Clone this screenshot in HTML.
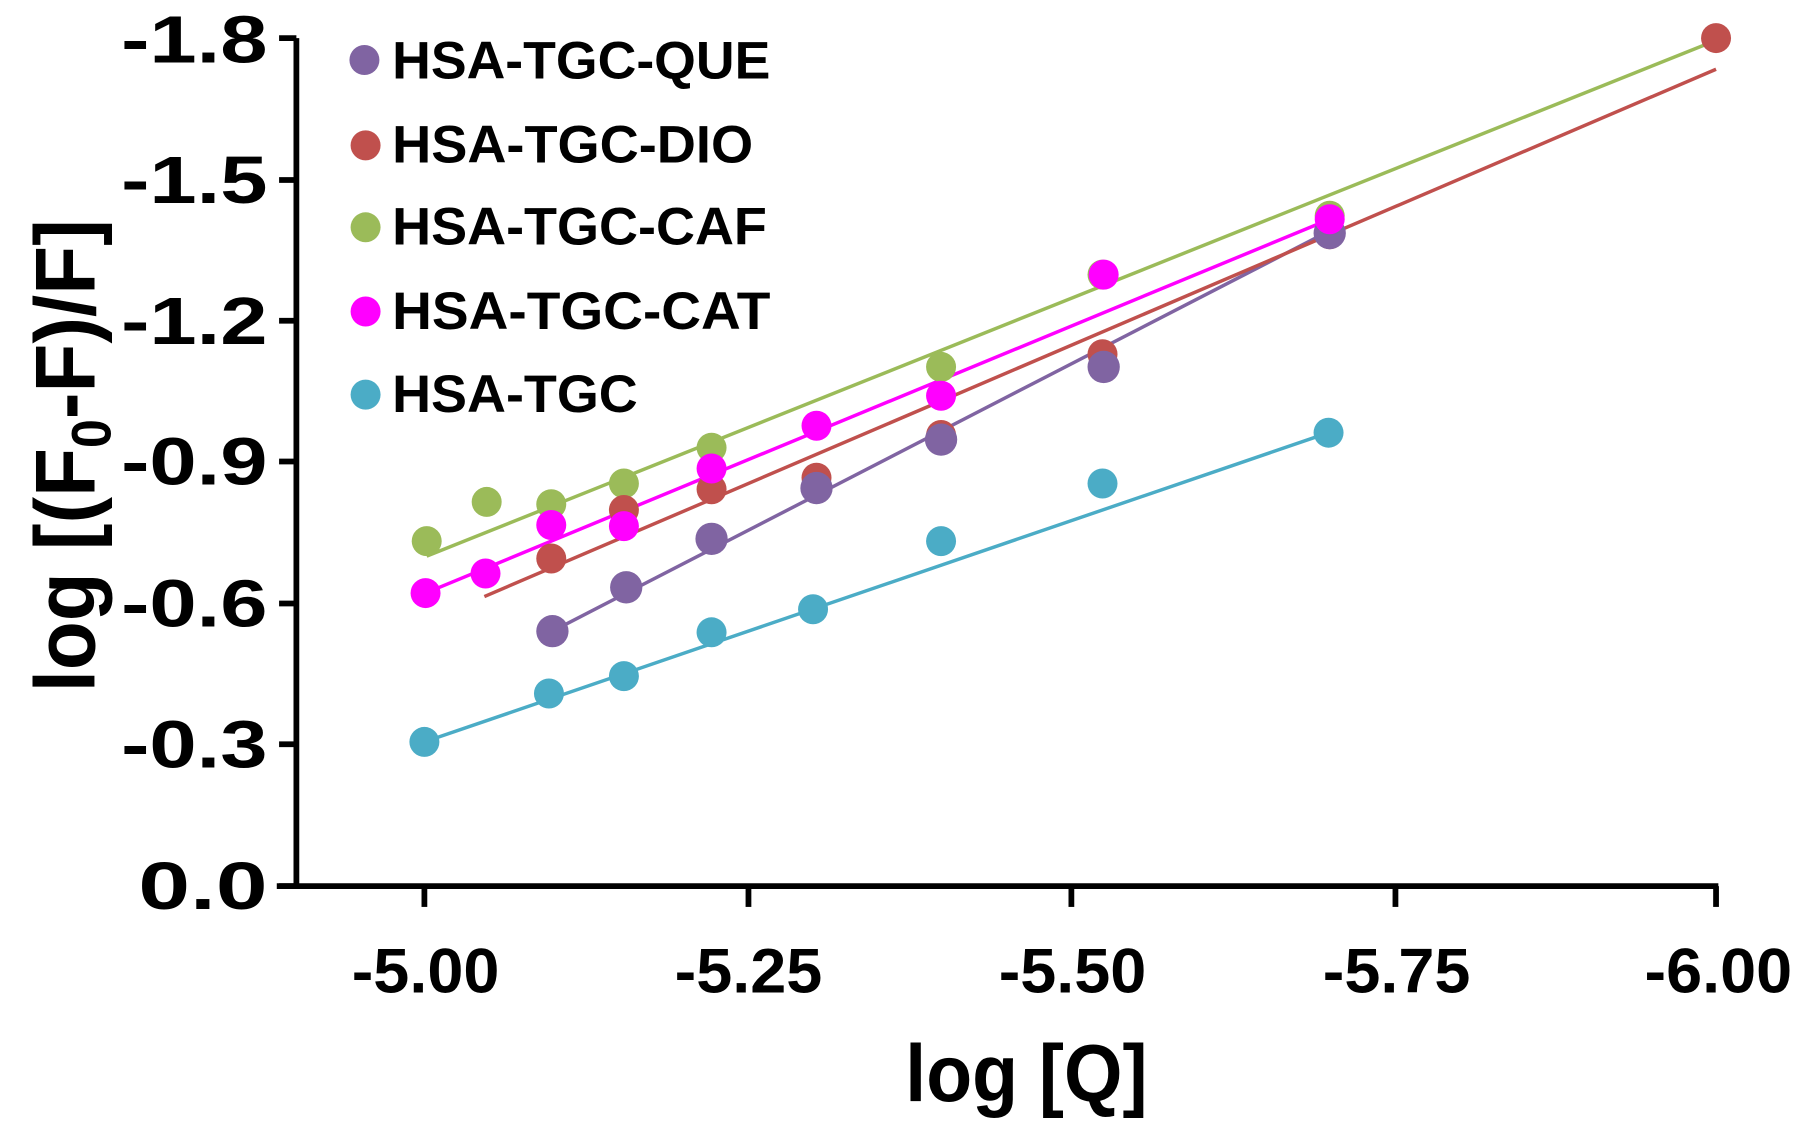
<!DOCTYPE html>
<html><head><style>html,body{margin:0;padding:0;background:#fff}svg{display:block}</style></head>
<body>
<svg width="1806" height="1125" viewBox="0 0 1566 975" preserveAspectRatio="none" xmlns="http://www.w3.org/2000/svg" font-family="Liberation Sans, Arial, sans-serif" font-weight="bold">
<g stroke="#000" stroke-width="5">
<line x1="257" y1="33" x2="257" y2="770"/>
<line x1="240" y1="768" x2="1490" y2="768"/>
<line x1="242" y1="33" x2="257" y2="33"/>
<line x1="242" y1="156" x2="257" y2="156"/>
<line x1="242" y1="278" x2="257" y2="278"/>
<line x1="242" y1="400" x2="257" y2="400"/>
<line x1="242" y1="523" x2="257" y2="523"/>
<line x1="242" y1="645" x2="257" y2="645"/>
<line x1="242" y1="768" x2="257" y2="768"/>
<line x1="368" y1="768" x2="368" y2="786"/>
<line x1="649" y1="768" x2="649" y2="786"/>
<line x1="929" y1="768" x2="929" y2="786"/>
<line x1="1210" y1="768" x2="1210" y2="786"/>
<line x1="1488" y1="768" x2="1488" y2="786"/>
</g>
<g font-size="58">
<text x="105" y="54" textLength="127" lengthAdjust="spacingAndGlyphs">-1.8</text>
<text x="105" y="176" textLength="127" lengthAdjust="spacingAndGlyphs">-1.5</text>
<text x="105" y="298" textLength="127" lengthAdjust="spacingAndGlyphs">-1.2</text>
<text x="105" y="420" textLength="127" lengthAdjust="spacingAndGlyphs">-0.9</text>
<text x="105" y="543" textLength="127" lengthAdjust="spacingAndGlyphs">-0.6</text>
<text x="105" y="665" textLength="127" lengthAdjust="spacingAndGlyphs">-0.3</text>
<text x="120" y="788" textLength="112" lengthAdjust="spacingAndGlyphs">0.0</text>
</g>
<g font-size="55">
<text x="305" y="860" textLength="128" lengthAdjust="spacingAndGlyphs">-5.00</text>
<text x="585" y="860" textLength="128" lengthAdjust="spacingAndGlyphs">-5.25</text>
<text x="866" y="860" textLength="128" lengthAdjust="spacingAndGlyphs">-5.50</text>
<text x="1147" y="860" textLength="128" lengthAdjust="spacingAndGlyphs">-5.75</text>
<text x="1426" y="860" textLength="128" lengthAdjust="spacingAndGlyphs">-6.00</text>
</g>
<text x="785" y="954" font-size="70" textLength="210" lengthAdjust="spacingAndGlyphs">log [Q]</text>
<text transform="translate(82,600) rotate(-90)" font-size="74" textLength="410" lengthAdjust="spacingAndGlyphs">log [(F<tspan font-size="48" dy="14">0</tspan><tspan dy="-14">-F)/F]</tspan></text>
<g stroke-width="3" fill="none">
<line x1="368" y1="643" x2="1152" y2="375" stroke="#4bacc6"/>
<line x1="479" y1="547" x2="1153" y2="200" stroke="#8064a2"/>
<line x1="420" y1="517" x2="1488" y2="60" stroke="#c0504d"/>
<line x1="370" y1="482" x2="1488" y2="35" stroke="#9bbb59"/>
<line x1="369" y1="514" x2="1153" y2="190" stroke="#ff00ff"/>
</g>
<g fill="#9bbb59">
<circle cx="370" cy="469" r="13"/><circle cx="422" cy="435" r="13"/><circle cx="478" cy="437" r="13"/><circle cx="541" cy="419" r="13"/><circle cx="617" cy="388" r="13"/><circle cx="816" cy="318" r="13"/><circle cx="956" cy="238" r="13"/><circle cx="1153" cy="187" r="13"/>
</g>
<g fill="#c0504d">
<circle cx="478" cy="484" r="13"/><circle cx="541" cy="442" r="13"/><circle cx="617" cy="424" r="13"/><circle cx="708" cy="414" r="13"/><circle cx="816" cy="377" r="13"/><circle cx="956" cy="307" r="13"/><circle cx="1153" cy="203" r="13"/><circle cx="1488" cy="33" r="13"/>
</g>
<g fill="#8064a2">
<circle cx="479" cy="547" r="14"/><circle cx="543" cy="509" r="14"/><circle cx="617" cy="467" r="14"/><circle cx="708" cy="423" r="14"/><circle cx="816" cy="381" r="14"/><circle cx="957" cy="318" r="14"/><circle cx="1153" cy="202" r="14"/>
</g>
<g fill="#ff00ff">
<circle cx="369" cy="514" r="13"/><circle cx="421" cy="497" r="13"/><circle cx="478" cy="455" r="13"/><circle cx="541" cy="456" r="13"/><circle cx="617" cy="406" r="13"/><circle cx="708" cy="369" r="13"/><circle cx="816" cy="343" r="13"/><circle cx="957" cy="238" r="13"/><circle cx="1153" cy="190" r="13"/>
</g>
<g fill="#4bacc6">
<circle cx="368" cy="643" r="13"/><circle cx="476" cy="601" r="13"/><circle cx="541" cy="586" r="13"/><circle cx="617" cy="548" r="13"/><circle cx="705" cy="528" r="13"/><circle cx="816" cy="469" r="13"/><circle cx="956" cy="419" r="13"/><circle cx="1152" cy="375" r="13"/>
</g>
<circle cx="316" cy="52" r="13" fill="#8064a2"/>
<circle cx="317" cy="126" r="13" fill="#c0504d"/>
<circle cx="317" cy="197" r="13" fill="#9bbb59"/>
<circle cx="317" cy="270" r="13" fill="#ff00ff"/>
<circle cx="317" cy="342" r="13" fill="#4bacc6"/>
<g font-size="46">
<text x="340" y="68" textLength="328" lengthAdjust="spacingAndGlyphs">HSA-TGC-QUE</text>
<text x="340" y="141" textLength="313" lengthAdjust="spacingAndGlyphs">HSA-TGC-DIO</text>
<text x="340" y="212" textLength="325" lengthAdjust="spacingAndGlyphs">HSA-TGC-CAF</text>
<text x="340" y="285" textLength="328" lengthAdjust="spacingAndGlyphs">HSA-TGC-CAT</text>
<text x="340" y="357" textLength="213" lengthAdjust="spacingAndGlyphs">HSA-TGC</text>
</g>
</svg>
</body></html>
